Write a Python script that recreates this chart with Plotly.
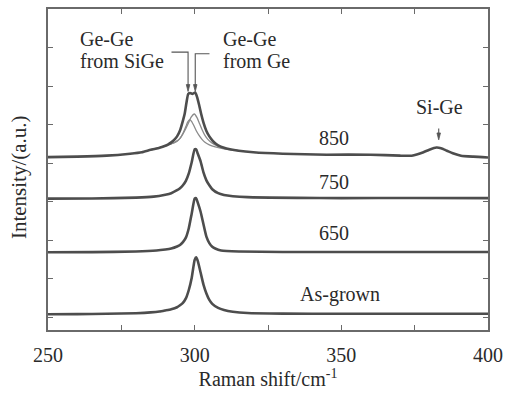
import plotly.graph_objects as go

# ---- data (intensity in arbitrary units) ----
x_asgrown = [250, 260, 270, 280, 285, 288, 290, 292, 294, 295, 296, 297, 298, 299, 300, 300.5,
             301, 302, 303, 304, 305, 306, 308, 310, 313, 318, 330, 350, 375, 400]
y_asgrown = [3, 3.1, 3.4, 4, 4.8, 5.7, 6.8, 8, 10, 12, 14.5, 19, 27.5, 40, 58, 60.5,
             57.5, 45.5, 33, 24, 17.5, 13.5, 9.3, 7.2, 5.5, 4.2, 3.6, 3.4, 3.5, 3.5]

x_650 = [250, 265, 280, 287, 290, 292, 294, 295, 296, 297, 298, 299, 300, 300.5,
         301, 302, 303, 304, 305, 306, 307, 309, 315, 330, 350, 375, 400]
y_650 = [65.7, 65.8, 66.5, 67.5, 68.5, 69.5, 71.5, 73, 76, 80.5, 90, 105, 120, 120.5,
         116.5, 107, 94, 81.5, 75, 71.3, 69.5, 67.5, 66.5, 66, 66, 66, 66]

x_750 = [250, 265, 280, 286, 290, 292, 294, 295, 296, 297, 298, 299, 300, 300.5,
         301, 302, 303, 304, 305, 306, 308, 310, 313, 318, 335, 350, 375, 400]
y_750 = [120, 120.2, 121, 122, 124, 125.5, 128.5, 130.5, 133.5, 138, 145.5, 157, 170, 170,
         166, 158, 146.5, 138.5, 133.5, 129.5, 125.5, 123.7, 122.5, 121.5, 120.8, 120.5, 120.7, 120.5]

x_850 = [250, 260, 270, 278, 282, 285, 288, 290, 291, 292,
         293, 294, 295, 296, 296.6, 297.2, 297.8, 298.5, 299.2, 300.2,
         300.8, 301.5, 302.2, 303, 304, 305, 306, 307, 308, 310,
         312, 315, 320, 330, 345, 360, 370, 374, 376, 378,
         380, 382.4, 384, 386, 388, 390.8, 395, 400]
y_850 = [162, 162.5, 163.5, 165.5, 167, 169.5, 171.5, 173.5, 175, 177,
         179.5, 183, 189, 199, 206, 217, 226, 227, 226, 227.5,
         223, 215, 206, 197, 188.5, 183, 179, 176, 174, 171.5,
         170, 168.5, 167, 165.5, 164.5, 164.5, 163.5, 163.5, 165, 167,
         169.5, 171.7, 171, 168.5, 166, 163.5, 162.5, 161.7]

# fitted components of the 850 spectrum
x_sige = [285, 288, 290, 292, 293, 294, 295, 296, 297, 297.6, 298.3, 299, 299.7,
          300.5, 301.5, 302.5, 303.5, 305, 307, 310, 315]
y_sige = [169.5, 171.5, 173.5, 175.5, 177, 178.5, 181, 186, 193, 197.5, 200, 198, 194,
          189, 184, 180, 177, 174.5, 172.5, 170.5, 168.5]

x_ge = [285, 288, 290, 292, 293, 294, 295, 296, 297, 297.8, 298.8, 299.9, 300.8,
        301.7, 302.5, 303.5, 304.5, 306, 308, 310, 315]
y_ge = [169.5, 171.5, 173.5, 175.5, 176.5, 178, 181, 185.5, 191, 196, 202.5, 205.7, 202,
        195.7, 190, 184, 180, 176, 173, 171, 168.5]

x_ticks = [250, 300, 350, 400]

FONT = "Liberation Serif"
MAIN = "#4d4d4d"
COMP = "#8a8a8a"
ARROW = "#555555"
TXT = "#2a2a2a"

fig = go.Figure()
for xs, ys in [(x_sige, y_sige), (x_ge, y_ge)]:
    fig.add_trace(go.Scatter(x=xs, y=ys, mode="lines",
                             line=dict(color=COMP, width=1.3, shape="spline", smoothing=0.5),
                             showlegend=False, hoverinfo="skip"))
for xs, ys in [(x_asgrown, y_asgrown), (x_650, y_650), (x_750, y_750), (x_850, y_850)]:
    fig.add_trace(go.Scatter(x=xs, y=ys, mode="lines",
                             line=dict(color=MAIN, width=2.6, shape="spline", smoothing=0.5),
                             showlegend=False, hoverinfo="skip"))

tf = dict(family=FONT, size=20, color=TXT)
ann = [
    dict(x=260.1, y=282, text="Ge-Ge", xanchor="left"),
    dict(x=260.1, y=259, text="from SiGe", xanchor="left"),
    dict(x=308.9, y=282, text="Ge-Ge", xanchor="left"),
    dict(x=308.9, y=259, text="from Ge", xanchor="left"),
    dict(x=347.5, y=181, text="850", xanchor="center"),
    dict(x=347.5, y=137, text="750", xanchor="center"),
    dict(x=347.5, y=85, text="650", xanchor="center"),
    dict(x=349.5, y=23, text="As-grown", xanchor="center"),
    dict(x=383.5, y=213, text="Si-Ge", xanchor="center"),
]
for a in ann:
    fig.add_annotation(x=a["x"], y=a["y"], text=a["text"], xanchor=a["xanchor"],
                       yanchor="middle", showarrow=False, font=tf)

# y-axis title as a rotated annotation
fig.add_annotation(x=-0.067, y=0.475, xref="paper", yref="paper", text="Intensity/(a.u.)",
                   textangle=-90, showarrow=False, xanchor="center", yanchor="middle",
                   font=dict(family=FONT, size=21, color=TXT))

# leader lines and arrowheads
ln = dict(color=ARROW, width=1.1)
fig.add_shape(type="path", path="M 292.1,268.3 L 297.75,268.3 L 297.75,234", line=ln)
fig.add_shape(type="path", path="M 305.05,266.7 L 300.2,266.7 L 300.2,234", line=ln)
fig.add_shape(type="line", x0=383.2, x1=383.2, y0=191, y1=184, line=ln)
for (tx, ty) in [(297.75, 228.5), (300.2, 228.5), (383.2, 179.5)]:
    fig.add_shape(type="path",
                  path=f"M {tx-0.6},{ty+7} L {tx+0.6},{ty+7} L {tx},{ty} Z",
                  line=dict(color=ARROW, width=0.8), fillcolor=ARROW)

axis_common = dict(showgrid=False, zeroline=False, showline=True, linecolor="#6a6a6a",
                   linewidth=1.5, mirror="ticks", ticks="inside", ticklen=5,
                   tickcolor="#6a6a6a", tickwidth=1.2)
fig.update_xaxes(range=[250, 400], tickvals=x_ticks,
                 minor=dict(dtick=25, tick0=250, ticks="inside", ticklen=5,
                            tickcolor="#6a6a6a", tickwidth=1.2),
                 tickfont=dict(family=FONT, size=20, color=TXT),
                 ticklabelstandoff=6,
                 title=dict(text="Raman shift/cm<sup>-1</sup>", standoff=6,
                            font=dict(family=FONT, size=20, color=TXT)),
                 **axis_common)
fig.update_yaxes(range=[-13, 312], tick0=0, dtick=39, showticklabels=False,
                 **axis_common)
fig.update_layout(width=510, height=393, margin=dict(l=48, r=16, t=7, b=61),
                  paper_bgcolor="white", plot_bgcolor="white")
fig.write_html("out.html")
